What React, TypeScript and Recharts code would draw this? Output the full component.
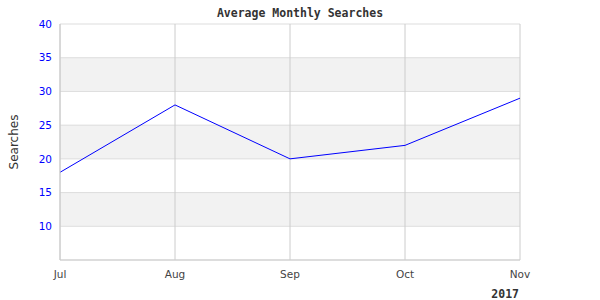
import { LineChart, Line, XAxis, YAxis, CartesianGrid, Label } from 'recharts'

const months = ['Jul', 'Aug', 'Sep', 'Oct', 'Nov']
const searches = [18, 28, 20, 22, 29]
const yTicks = [10, 15, 20, 25, 30, 35, 40]

const data = months.map((month, i) => ({ month, searches: searches[i] }))

const mono = '"DejaVu Sans Mono", "Liberation Mono", monospace'
const sans = '"DejaVu Sans", Verdana, sans-serif'

export default function App() {
  return (
    <div style={{ position: 'absolute', left: 0, top: 0, width: 600, height: 300, background: '#fff' }}>
      <LineChart
        width={600}
        height={300}
        data={data}
        margin={{ top: 24, right: 80, bottom: 10, left: 0 }}
      >
        <CartesianGrid
          vertical={false}
          stroke="#dddddd"
          fill="transparent"
          horizontalFill={['#ffffff', '#f2f2f2']}
          fillOpacity={1}
        />
        <CartesianGrid horizontal={false} stroke="#cccccc" />
        <XAxis
          dataKey="month"
          height={30}
          tickSize={0}
          tickMargin={11}
          axisLine={{ stroke: '#cccccc' }}
          tick={{ fill: '#444444', fontSize: 10.5, fontFamily: sans }}
          interval={0}
        />
        <YAxis
          width={60}
          domain={[5, 40]}
          ticks={yTicks}
          tickSize={0}
          tickMargin={8}
          axisLine={{ stroke: '#cccccc' }}
          tick={{ fill: '#0000ff', fontSize: 10.5, fontFamily: sans }}
        >
          <Label
            value="Searches"
            angle={-90}
            position="insideLeft"
            offset={14}
            style={{ fill: '#333333', fontSize: 12, fontFamily: sans, textAnchor: 'middle' }}
          />
        </YAxis>
        <Line
          type="linear"
          dataKey="searches"
          stroke="#0000ff"
          strokeWidth={1}
          dot={false}
          activeDot={false}
          isAnimationActive={false}
        />
        <text x={300} y={17} textAnchor="middle" fontFamily={mono} fontWeight="bold" fontSize={11.5} fill="#333333">
          Average Monthly Searches
        </text>
        <text x={519} y={298} textAnchor="end" fontFamily={mono} fontWeight="bold" fontSize={11.5} fill="#333333">
          2017
        </text>
      </LineChart>
    </div>
  )
}
